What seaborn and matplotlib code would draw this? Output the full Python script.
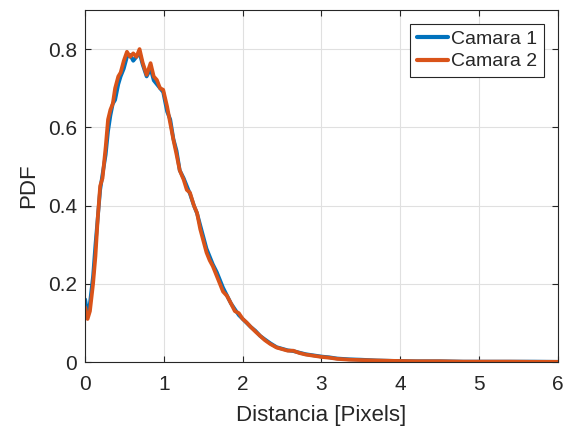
import numpy as np
import pandas as pd
import matplotlib
matplotlib.use("Agg")
import matplotlib.pyplot as plt
import seaborn as sns

# datos
distancia = [0.00, 0.03, 0.06, 0.10, 0.13, 0.16, 0.19, 0.22, 0.26, 0.29, 0.32, 0.35, 0.38,
             0.42, 0.45, 0.49, 0.53, 0.57, 0.61, 0.65, 0.69, 0.73, 0.78, 0.83, 0.87,
             0.91, 0.95, 0.99, 1.04, 1.08, 1.12, 1.16, 1.20, 1.25, 1.29, 1.33, 1.38,
             1.42, 1.46, 1.50, 1.54, 1.58, 1.62, 1.67, 1.71, 1.75, 1.80, 1.85, 1.90,
             1.95, 2.00, 2.05, 2.10, 2.16, 2.22, 2.28, 2.35, 2.43, 2.50, 2.57, 2.64,
             2.72, 2.80, 2.90, 3.00, 3.10, 3.20, 3.35, 3.50, 3.70, 3.90, 4.20, 4.50,
             4.80, 5.10, 5.40, 5.70, 6.00]
camara1 = [0.16, 0.12, 0.15, 0.22, 0.30, 0.37, 0.44, 0.48, 0.53, 0.59, 0.63, 0.66, 0.67,
           0.71, 0.73, 0.75, 0.78, 0.785, 0.77, 0.78, 0.79, 0.76, 0.73, 0.75, 0.72,
           0.71, 0.70, 0.69, 0.64, 0.62, 0.57, 0.54, 0.49, 0.47, 0.45, 0.43, 0.40,
           0.38, 0.35, 0.32, 0.29, 0.27, 0.25, 0.23, 0.21, 0.19, 0.17, 0.15, 0.135,
           0.12, 0.11, 0.10, 0.09, 0.08, 0.067, 0.058, 0.048, 0.038, 0.034, 0.030, 0.028,
           0.024, 0.020, 0.017, 0.014, 0.012, 0.009, 0.007, 0.006, 0.004, 0.003, 0.002, 0.002,
           0.001, 0.001, 0.001, 0.001, 0.0005]
camara2 = [0.14, 0.11, 0.13, 0.20, 0.27, 0.37, 0.45, 0.47, 0.55, 0.62, 0.645, 0.66, 0.70,
           0.73, 0.74, 0.77, 0.793, 0.78, 0.789, 0.78, 0.80, 0.765, 0.734, 0.764, 0.73,
           0.721, 0.70, 0.696, 0.653, 0.61, 0.568, 0.53, 0.49, 0.466, 0.44, 0.433, 0.40,
           0.381, 0.34, 0.31, 0.28, 0.26, 0.245, 0.22, 0.20, 0.18, 0.169, 0.15, 0.13,
           0.125, 0.11, 0.101, 0.09, 0.078, 0.067, 0.056, 0.046, 0.037, 0.033, 0.029, 0.029,
           0.023, 0.019, 0.016, 0.013, 0.011, 0.008, 0.006, 0.005, 0.004, 0.003, 0.002, 0.002,
           0.001, 0.001, 0.001, 0.0005, 0.0005]

df = pd.DataFrame({
    "Distancia": distancia * 2,
    "PDF": camara1 + camara2,
    "Serie": ["Camara 1"] * len(distancia) + ["Camara 2"] * len(distancia),
})

sns.set_style("ticks")
plt.rcParams['font.family'] = ['Liberation Sans', 'DejaVu Sans']

fig = plt.figure(figsize=(5.68, 4.32), dpi=100)
ax = fig.add_axes([0.15, 0.162, 0.832, 0.815])
sns.lineplot(data=df, x="Distancia", y="PDF", hue="Serie",
             palette=["#0072BD", "#D95319"], linewidth=2.7, ax=ax)

ax.set_xlim(0, 6)
ax.set_ylim(0, 0.9)
ax.set_xticks(range(0, 7))
ax.set_yticks([0, 0.2, 0.4, 0.6, 0.8])
ax.set_yticklabels(["0", "0.2", "0.4", "0.6", "0.8"])
ax.grid(True, color="#e0e0e0", linewidth=0.8)
ax.set_axisbelow(True)
for s in ax.spines.values():
    s.set_visible(True)
    s.set_color("#262626")
    s.set_linewidth(0.8)
ax.tick_params(direction="in", top=True, right=True, labelsize=15, colors="#262626",
               length=4, width=0.8)
ax.tick_params(axis="x", pad=9)
ax.tick_params(axis="y", pad=6)
ax.set_xlabel("Distancia [Pixels]", fontsize=16, color="#262626", labelpad=8)
ax.set_ylabel("PDF", fontsize=16, color="#262626", labelpad=6)

leg = ax.legend(loc="upper right", fontsize=14, frameon=True, fancybox=False,
                edgecolor="#262626", framealpha=1, handlelength=1.6,
                handletextpad=0.15, borderpad=0.35, labelspacing=0.25,
                borderaxespad=0.7)
leg.get_frame().set_linewidth(0.8)
for line in leg.get_lines():
    line.set_linewidth(3)

fig.savefig("out.png", dpi=100)
